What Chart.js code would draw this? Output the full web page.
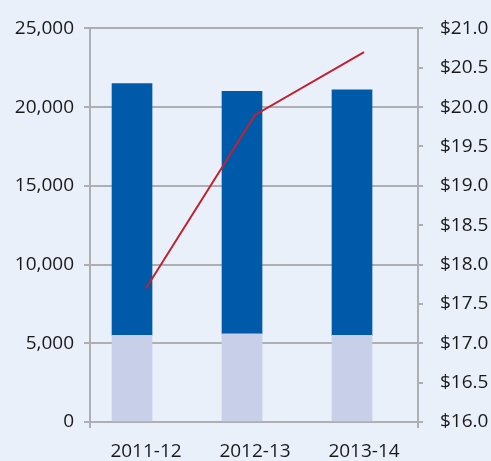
<!DOCTYPE html>
<html>
<head>
<meta charset="utf-8">
<script src="https://cdn.jsdelivr.net/npm/chart.js@4"></script>
<style>
  body { margin: 0; background: #e9f0fa; }
  #wrap { width: 491px; height: 461px; }
</style>
</head>
<body>
<div id="wrap"><canvas id="chart"></canvas></div>
<script>
// data
const categories = ["2011-12", "2012-13", "2013-14"];
const baseValues = [5500, 5600, 5500];      // light lower segment
const topValues = [16000, 15400, 15600];    // dark upper segment
const lineValues = [17.7, 19.9, 20.7];      // right axis ($)
const leftTicks = [0, 5000, 10000, 15000, 20000, 25000];

const gridGray = '#adafb2';
const tickFont = { family: "'Open Sans', sans-serif", size: 19 };

Chart.defaults.color = '#1a1a1a';

const toPoints = vals => vals.map((v, i) => ({ x: i, y: v }));

new Chart(document.getElementById('chart'), {
  data: {
    datasets: [
      {
        type: 'bar',
        data: toPoints(baseValues),
        backgroundColor: '#c8cfe8',
        grouped: false,
        barThickness: 40,
        maxBarThickness: 40,
        xAxisID: 'x',
        yAxisID: 'y',
        order: 2
      },
      {
        type: 'bar',
        data: toPoints(topValues),
        backgroundColor: '#005aaa',
        grouped: false,
        barThickness: 40,
        maxBarThickness: 40,
        xAxisID: 'x',
        yAxisID: 'y',
        order: 2
      },
      {
        type: 'line',
        data: toPoints(lineValues),
        borderColor: '#c4202f',
        borderWidth: 2,
        pointRadius: 0,
        tension: 0,
        xAxisID: 'xl',
        yAxisID: 'y2',
        order: 1
      }
    ]
  },
  options: {
    responsive: true,
    maintainAspectRatio: false,
    animation: false,
    layout: { padding: { top: 24, left: 0, right: 0, bottom: 0 } },
    plugins: { legend: { display: false }, tooltip: { enabled: false } },
    scales: {
      // bar axis: only draws the little tick marks at both ends
      x: {
        type: 'linear',
        stacked: true,
        offset: false,
        position: 'bottom',
        min: -0.382,
        max: 2.6,
        weight: 0,
        afterBuildTicks: s => { s.ticks = [{ value: s.min }, { value: s.max }]; },
        afterFit: s => { s.height = 0; },
        grid: { offset: false, drawOnChartArea: false, color: gridGray, lineWidth: 2, tickLength: 6 },
        border: { display: false },
        ticks: { display: false }
      },
      // line axis: carries the category labels
      xl: {
        type: 'linear',
        offset: false,
        position: 'bottom',
        min: -0.514,
        max: 2.495,
        weight: 1,
        afterBuildTicks: s => { s.ticks = categories.map((c, i) => ({ value: i })); },
        afterFit: s => { s.height = 39; },
        grid: { display: false },
        border: { display: false },
        ticks: {
          font: tickFont,
          padding: 10,
          maxRotation: 0,
          callback: v => categories[v]
        }
      },
      y: {
        stacked: true,
        position: 'left',
        min: 0,
        max: 25000,
        afterBuildTicks: s => { s.ticks = leftTicks.map(v => ({ value: v })); },
        afterFit: s => { s.width = 90; },
        grid: { color: gridGray, lineWidth: 2, tickLength: 6 },
        border: { color: gridGray, width: 2 },
        ticks: {
          font: tickFont,
          padding: 10,
          callback: v => v.toLocaleString('en-US')
        }
      },
      y2: {
        position: 'right',
        min: 16,
        max: 21,
        afterFit: s => { s.width = 73; },
        grid: { drawOnChartArea: false, color: gridGray, lineWidth: 2, tickLength: 5 },
        border: { color: gridGray, width: 2 },
        ticks: {
          stepSize: 0.5,
          font: tickFont,
          padding: 17,
          callback: v => '$' + v.toFixed(1)
        }
      }
    }
  }
});
</script>
</body>
</html>
